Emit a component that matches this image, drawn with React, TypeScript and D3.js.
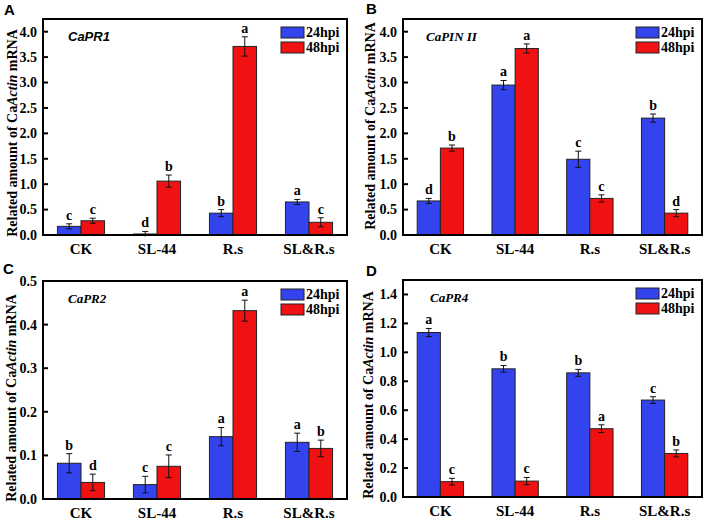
import React from 'react';
import * as d3 from 'd3';

const categories = ['CK', 'SL-44', 'R.s', 'SL&R.s'];
const series = ['24hpi', '48hpi'];

// CaPR1
const pr1Mean24 = [0.17, 0.02, 0.43, 0.65];
const pr1Mean48 = [0.28, 1.06, 3.71, 0.25];
const pr1Err24 = [0.05, 0.05, 0.07, 0.05];
const pr1Err48 = [0.05, 0.12, 0.19, 0.09];
const pr1Sig24 = ['c', 'd', 'b', 'a'];
const pr1Sig48 = ['c', 'b', 'a', 'c'];

// CaPIN II
const pinMean24 = [0.67, 2.95, 1.49, 2.30];
const pinMean48 = [1.71, 3.67, 0.72, 0.43];
const pinErr24 = [0.05, 0.09, 0.16, 0.08];
const pinErr48 = [0.06, 0.09, 0.07, 0.07];
const pinSig24 = ['d', 'a', 'c', 'b'];
const pinSig48 = ['b', 'a', 'c', 'd'];

// CaPR2
const pr2Mean24 = [0.082, 0.033, 0.143, 0.130];
const pr2Mean48 = [0.038, 0.075, 0.432, 0.116];
const pr2Err24 = [0.022, 0.019, 0.021, 0.021];
const pr2Err48 = [0.019, 0.026, 0.024, 0.019];
const pr2Sig24 = ['b', 'c', 'a', 'a'];
const pr2Sig48 = ['d', 'c', 'a', 'b'];

// CaPR4
const pr4Mean24 = [1.137, 0.886, 0.858, 0.670];
const pr4Mean48 = [0.106, 0.110, 0.472, 0.301];
const pr4Err24 = [0.028, 0.023, 0.024, 0.023];
const pr4Err48 = [0.023, 0.025, 0.027, 0.024];
const pr4Sig24 = ['a', 'b', 'b', 'c'];
const pr4Sig48 = ['c', 'c', 'a', 'b'];

const colors = ['#3344ee', '#f01212'];
const serif = '"Liberation Serif", "Times New Roman", serif';
const sans = '"Liberation Sans", Arial, sans-serif';

const panels = [
  {
    letter: 'A', gene: 'CaPR1', geneFont: sans,
    x0: 43, x1: 347, y0: 19, y1: 235, yMax: 4.25, yTicks: d3.range(0, 4.01, 0.5),
    means: [pr1Mean24, pr1Mean48], errs: [pr1Err24, pr1Err48], sigs: [pr1Sig24, pr1Sig48],
    lx: 4, ly: 15, axisX: 12, axisY: 133, geneX: 68,
  },
  {
    letter: 'B', gene: 'CaPIN II', geneFont: serif,
    x0: 403, x1: 702, y0: 19, y1: 235, yMax: 4.25, yTicks: d3.range(0, 4.01, 0.5),
    means: [pinMean24, pinMean48], errs: [pinErr24, pinErr48], sigs: [pinSig24, pinSig48],
    lx: 366, ly: 14, axisX: 370, axisY: 126, geneX: 426,
  },
  {
    letter: 'C', gene: 'CaPR2', geneFont: serif,
    x0: 43, x1: 347, y0: 281, y1: 499, yMax: 0.5, yTicks: d3.range(0, 0.51, 0.1),
    means: [pr2Mean24, pr2Mean48], errs: [pr2Err24, pr2Err48], sigs: [pr2Sig24, pr2Sig48],
    lx: 3, ly: 274, axisX: 11, axisY: 398, geneX: 68,
  },
  {
    letter: 'D', gene: 'CaPR4', geneFont: serif,
    x0: 403, x1: 702, y0: 280, y1: 497, yMax: 1.5, yTicks: d3.range(0, 1.41, 0.2),
    means: [pr4Mean24, pr4Mean48], errs: [pr4Err24, pr4Err48], sigs: [pr4Sig24, pr4Sig48],
    lx: 366, ly: 276, axisX: 368, axisY: 395, geneX: 430,
  },
];

const Panel = ({ p }: { p: any }) => {
  const x = d3.scaleBand().domain(categories).range([p.x0, p.x1]).paddingInner(0.38).paddingOuter(0.19);
  const xs = d3.scaleBand().domain(series).range([0, x.bandwidth()]);
  const y = d3.scaleLinear().domain([0, p.yMax]).range([p.y1, p.y0]);
  const fmt = d3.format('.1f');

  return (
    <g>
      <text x={p.lx} y={p.ly} fontFamily={sans} fontWeight="bold" fontSize={15}>{p.letter}</text>
      {series.map((s, si) =>
        categories.map((c, ci) => {
          const v = p.means[si][ci];
          const e = p.errs[si][ci];
          const bx = x(c)! + xs(s)!;
          const cx = bx + xs.bandwidth() / 2;
          return (
            <g key={s + c}>
              <rect x={bx} y={y(v)} width={xs.bandwidth()} height={y(0) - y(v)}
                fill={colors[si]} stroke="#222" strokeWidth={1} />
              <line x1={cx} x2={cx} y1={y(v - e)} y2={y(v + e)} stroke="#111" strokeWidth={1} />
              <line x1={cx - 3} x2={cx + 3} y1={y(v + e)} y2={y(v + e)} stroke="#111" strokeWidth={1} />
              <line x1={cx - 3} x2={cx + 3} y1={y(Math.max(0, v - e))} y2={y(Math.max(0, v - e))} stroke="#111" strokeWidth={1} />
              <text x={cx} y={y(v + e) - 4} textAnchor="middle" fontFamily={serif} fontWeight="bold" fontSize={14}>
                {p.sigs[si][ci]}
              </text>
            </g>
          );
        })
      )}
      <rect x={p.x0} y={p.y0} width={p.x1 - p.x0} height={p.y1 - p.y0} fill="none" stroke="#000" strokeWidth={2} />
      {p.yTicks.map((t: number) => (
        <g key={t}>
          <line x1={p.x0} x2={p.x0 + 5} y1={y(t)} y2={y(t)} stroke="#000" strokeWidth={2} />
          <text x={p.x0 - 6} y={y(t)} dy="0.35em" textAnchor="end" fontFamily={serif} fontWeight="bold" fontSize={14}>
            {fmt(t)}
          </text>
        </g>
      ))}
      {categories.map(c => (
        <text key={c} x={x(c)! + x.bandwidth() / 2} y={p.y1 + 19} textAnchor="middle"
          fontFamily={serif} fontWeight="bold" fontSize={15}>{c}</text>
      ))}
      <text transform={`translate(${p.axisX},${p.axisY}) rotate(-90)`} textAnchor="middle" dy="0.35em"
        fontFamily={serif} fontWeight="bold" fontSize={14}>
        Related amount of Ca<tspan fontStyle="italic">Actin</tspan> mRNA
      </text>
      <text x={p.geneX} y={p.y0 + 22} fontFamily={p.geneFont} fontWeight="bold" fontStyle="italic" fontSize={13}>
        {p.gene}
      </text>
      {series.map((s, si) => (
        <g key={s}>
          <rect x={p.x1 - 66} y={p.y0 + 8 + si * 15} width={23} height={11} fill={colors[si]} stroke="#222" strokeWidth={1} />
          <text x={p.x1 - 41} y={p.y0 + 8 + si * 15 + 5.5} dy="0.35em" fontFamily={serif} fontWeight="bold" fontSize={14}>
            {s}
          </text>
        </g>
      ))}
    </g>
  );
};

export default function App() {
  return (
    <svg width={708} height={522} style={{ position: 'absolute', left: 0, top: 0, background: '#fff' }}>
      {panels.map(p => <Panel key={p.letter} p={p} />)}
    </svg>
  );
}
